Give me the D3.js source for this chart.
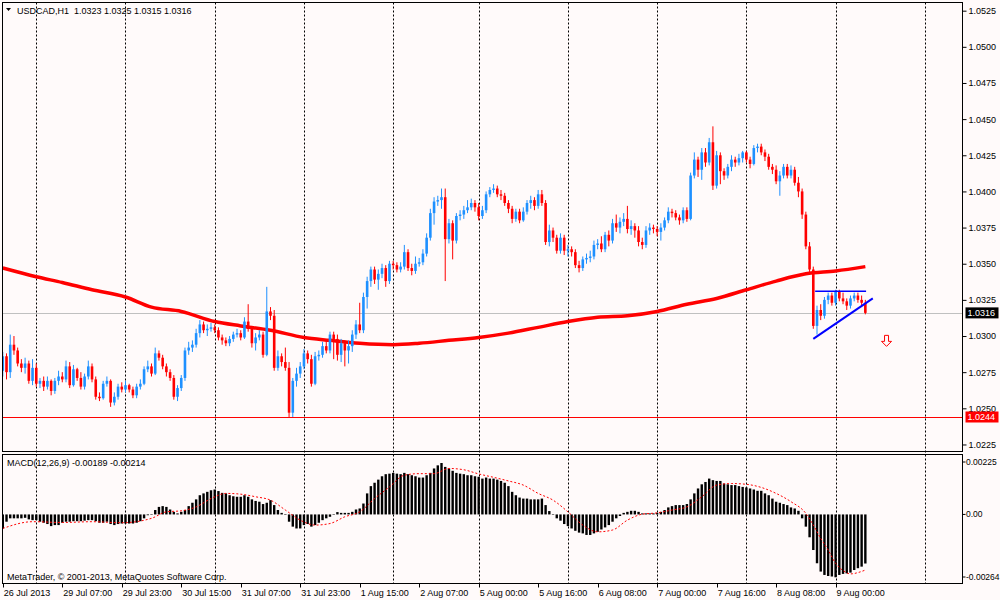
<!DOCTYPE html>
<html>
<head>
<meta charset="utf-8">
<script src="https://cdn.jsdelivr.net/npm/d3@7"></script>
<style>
    body { margin: 0; background: #fffafa; }
    text { font-family: Tahoma, "Liberation Sans", Arial, sans-serif; font-size: 9px; fill: #000; }
    .macd-tick { font-size: 8.5px; }
</style>
</head>
<body>
<svg id="chart" width="1000" height="600"></svg>
<script>
// USDCAD H1, bar index 0 = 26 Jul 2013 15:00, last bar = 9 Aug 08:00
const chartTitle = "USDCAD,H1  1.0323 1.0325 1.0315 1.0316";
const macdTitle = "MACD(12,26,9) -0.00189 -0.00214";
const copyright = "MetaTrader, \u00a9 2001-2013, MetaQuotes Software Corp.";

const opens = [
    1.0276,1.0286,1.0275,1.0294,1.0290,1.0281,1.0278,1.0281,1.0269,1.0278,1.0267,1.0269,
    1.0265,1.0269,1.0262,1.0269,1.0272,1.0270,1.0279,1.0266,1.0277,1.0271,1.0265,1.0272,
    1.0279,1.0270,1.0258,1.0257,1.0267,1.0269,1.0254,1.0258,1.0265,1.0263,1.0266,1.0263,
    1.0259,1.0265,1.0267,1.0277,1.0279,1.0274,1.0288,1.0285,1.0279,1.0275,1.0271,1.0258,
    1.0264,1.0271,1.0290,1.0292,1.0294,1.0302,1.0308,1.0304,1.0305,1.0306,1.0304,1.0299,
    1.0297,1.0295,1.0298,1.0301,1.0302,1.0299,1.0310,1.0305,1.0295,1.0299,1.0301,1.0287,
    1.0317,1.0314,1.0278,1.0286,1.0282,1.0278,1.0247,1.0269,1.0274,1.0279,1.0288,1.0284,
    1.0267,1.0286,1.0287,1.0293,1.0290,1.0301,1.0298,1.0287,1.0295,1.0290,1.0293,1.0301,
    1.0308,1.0304,1.0327,1.0338,1.0346,1.0339,1.0343,1.0347,1.0338,1.0350,1.0349,1.0346,
    1.0348,1.0358,1.0347,1.0345,1.0350,1.0351,1.0357,1.0368,1.0385,1.0393,1.0394,1.0396,
    1.0367,1.0378,1.0366,1.0383,1.0384,1.0387,1.0389,1.0392,1.0389,1.0383,1.0387,1.0398,
    1.0401,1.0402,1.0398,1.0397,1.0392,1.0388,1.0381,1.0386,1.0380,1.0386,1.0392,1.0394,
    1.0390,1.0398,1.0392,1.0365,1.0373,1.0368,1.0359,1.0368,1.0359,1.0360,1.0358,1.0349,
    1.0347,1.0353,1.0354,1.0355,1.0363,1.0364,1.0360,1.0370,1.0366,1.0378,1.0375,1.0379,
    1.0381,1.0374,1.0376,1.0373,1.0365,1.0363,1.0373,1.0375,1.0374,1.0372,1.0375,1.0380,
    1.0386,1.0385,1.0382,1.0380,1.0387,1.0381,1.0411,1.0422,1.0415,1.0427,1.0420,1.0434,
    1.0404,1.0425,1.0414,1.0411,1.0417,1.0422,1.0420,1.0423,1.0427,1.0422,1.0419,1.0430,
    1.0431,1.0427,1.0424,1.0417,1.0415,1.0407,1.0411,1.0417,1.0411,1.0415,1.0406,1.0400,
    1.0384,1.0362,1.0346,1.0307,1.0318,1.0314,1.0325,1.0328,1.0323,1.0331,1.0326,1.0324,
    1.0321,1.0326,1.0328,1.0325,1.0323
];
const highs = [
    1.0289,1.0288,1.0301,1.0300,1.0292,1.0284,1.0285,1.0283,1.0284,1.0281,1.0271,1.0272,
    1.0272,1.0270,1.0271,1.0276,1.0275,1.0283,1.0282,1.0280,1.0278,1.0275,1.0274,1.0283,
    1.0281,1.0272,1.0261,1.0269,1.0272,1.0270,1.0261,1.0267,1.0268,1.0269,1.0267,1.0265,
    1.0267,1.0270,1.0279,1.0283,1.0281,1.0292,1.0290,1.0287,1.0281,1.0277,1.0273,1.0266,
    1.0273,1.0292,1.0296,1.0297,1.0305,1.0311,1.0310,1.0308,1.0309,1.0308,1.0306,1.0301,
    1.0299,1.0300,1.0303,1.0305,1.0304,1.0313,1.0322,1.0307,1.0302,1.0304,1.0303,1.0334,
    1.0320,1.0318,1.0290,1.0288,1.0292,1.0282,1.0271,1.0278,1.0282,1.0291,1.0290,1.0287,
    1.0289,1.0290,1.0296,1.0297,1.0303,1.0303,1.0301,1.0298,1.0297,1.0297,1.0304,1.0311,
    1.0323,1.0330,1.0341,1.0348,1.0348,1.0346,1.0350,1.0349,1.0352,1.0352,1.0351,1.0351,
    1.0363,1.0360,1.0350,1.0355,1.0354,1.0360,1.0371,1.0388,1.0396,1.0397,1.0402,1.0402,
    1.0381,1.0380,1.0385,1.0387,1.0390,1.0394,1.0395,1.0394,1.0392,1.0390,1.0400,1.0403,
    1.0405,1.0404,1.0401,1.0399,1.0394,1.0390,1.0388,1.0388,1.0389,1.0394,1.0397,1.0396,
    1.0401,1.0401,1.0394,1.0377,1.0375,1.0370,1.0371,1.0370,1.0363,1.0362,1.0360,1.0352,
    1.0355,1.0357,1.0359,1.0366,1.0367,1.0369,1.0372,1.0373,1.0381,1.0384,1.0382,1.0385,
    1.0390,1.0380,1.0378,1.0376,1.0368,1.0376,1.0378,1.0377,1.0376,1.0378,1.0382,1.0389,
    1.0388,1.0387,1.0384,1.0389,1.0389,1.0413,1.0427,1.0424,1.0430,1.0430,1.0437,1.0445,
    1.0428,1.0427,1.0416,1.0419,1.0425,1.0424,1.0426,1.0428,1.0428,1.0424,1.0432,1.0433,
    1.0433,1.0429,1.0426,1.0419,1.0418,1.0414,1.0419,1.0419,1.0418,1.0417,1.0410,1.0402,
    1.0386,1.0365,1.0348,1.0321,1.0322,1.0327,1.0330,1.0330,1.0332,1.0332,1.0330,1.0326,
    1.0328,1.0330,1.0330,1.0328,1.0325
];
const lows = [
    1.0272,1.0270,1.0271,1.0287,1.0279,1.0275,1.0274,1.0267,1.0266,1.0265,1.0264,1.0262,
    1.0263,1.0259,1.0260,1.0266,1.0268,1.0268,1.0264,1.0265,1.0269,1.0263,1.0263,1.0270,
    1.0268,1.0256,1.0255,1.0256,1.0265,1.0251,1.0252,1.0256,1.0261,1.0261,1.0261,1.0257,
    1.0257,1.0263,1.0266,1.0275,1.0272,1.0273,1.0283,1.0277,1.0272,1.0269,1.0256,1.0255,
    1.0262,1.0269,1.0287,1.0289,1.0292,1.0299,1.0302,1.0300,1.0303,1.0302,1.0297,1.0294,
    1.0293,1.0293,1.0296,1.0299,1.0297,1.0298,1.0303,1.0292,1.0290,1.0297,1.0285,1.0286,
    1.0311,1.0276,1.0276,1.0279,1.0276,1.0244,1.0244,1.0265,1.0271,1.0277,1.0281,1.0265,
    1.0266,1.0283,1.0285,1.0288,1.0288,1.0284,1.0283,1.0282,1.0279,1.0281,1.0289,1.0298,
    1.0302,1.0302,1.0319,1.0334,1.0336,1.0332,1.0340,1.0334,1.0336,1.0346,1.0344,1.0344,
    1.0346,1.0345,1.0342,1.0343,1.0348,1.0349,1.0355,1.0366,1.0377,1.0390,1.0388,1.0338,
    1.0364,1.0353,1.0364,1.0380,1.0381,1.0385,1.0387,1.0386,1.0380,1.0381,1.0385,1.0396,
    1.0399,1.0396,1.0394,1.0390,1.0385,1.0378,1.0379,1.0378,1.0379,1.0384,1.0388,1.0387,
    1.0388,1.0390,1.0363,1.0362,1.0365,1.0357,1.0357,1.0356,1.0355,1.0355,1.0347,1.0344,
    1.0345,1.0350,1.0351,1.0353,1.0360,1.0358,1.0358,1.0362,1.0364,1.0372,1.0371,1.0376,
    1.0371,1.0370,1.0368,1.0362,1.0360,1.0361,1.0370,1.0371,1.0369,1.0366,1.0373,1.0378,
    1.0382,1.0380,1.0377,1.0378,1.0379,1.0380,1.0409,1.0410,1.0408,1.0417,1.0418,1.0401,
    1.0402,1.0405,1.0408,1.0409,1.0414,1.0417,1.0418,1.0420,1.0420,1.0416,1.0418,1.0427,
    1.0425,1.0421,1.0415,1.0412,1.0405,1.0397,1.0409,1.0409,1.0409,1.0404,1.0396,1.0381,
    1.0360,1.0343,1.0305,1.0301,1.0311,1.0312,1.0322,1.0321,1.0321,1.0324,1.0322,1.0318,
    1.0319,1.0324,1.0323,1.0320,1.0315
];
const closes = [
    1.0286,1.0275,1.0294,1.0290,1.0281,1.0278,1.0281,1.0269,1.0278,1.0267,1.0269,1.0265,
    1.0269,1.0262,1.0269,1.0272,1.0270,1.0279,1.0266,1.0277,1.0271,1.0265,1.0272,1.0279,
    1.0270,1.0258,1.0257,1.0267,1.0269,1.0254,1.0258,1.0265,1.0263,1.0266,1.0263,1.0259,
    1.0265,1.0267,1.0277,1.0279,1.0274,1.0288,1.0285,1.0279,1.0275,1.0271,1.0258,1.0264,
    1.0271,1.0290,1.0292,1.0294,1.0302,1.0308,1.0304,1.0305,1.0306,1.0304,1.0299,1.0297,
    1.0295,1.0298,1.0301,1.0302,1.0299,1.0310,1.0305,1.0295,1.0299,1.0301,1.0287,1.0317,
    1.0314,1.0278,1.0286,1.0282,1.0278,1.0247,1.0269,1.0274,1.0279,1.0288,1.0284,1.0267,
    1.0286,1.0287,1.0293,1.0290,1.0301,1.0298,1.0287,1.0295,1.0290,1.0293,1.0301,1.0308,
    1.0304,1.0327,1.0338,1.0346,1.0339,1.0343,1.0347,1.0338,1.0350,1.0349,1.0346,1.0348,
    1.0358,1.0347,1.0345,1.0350,1.0351,1.0357,1.0368,1.0385,1.0393,1.0394,1.0396,1.0367,
    1.0378,1.0366,1.0383,1.0384,1.0387,1.0389,1.0392,1.0389,1.0383,1.0387,1.0398,1.0401,
    1.0402,1.0398,1.0397,1.0392,1.0388,1.0381,1.0386,1.0380,1.0386,1.0392,1.0394,1.0390,
    1.0398,1.0392,1.0365,1.0373,1.0368,1.0359,1.0368,1.0359,1.0360,1.0358,1.0349,1.0347,
    1.0353,1.0354,1.0355,1.0363,1.0364,1.0360,1.0370,1.0366,1.0378,1.0375,1.0379,1.0381,
    1.0374,1.0376,1.0373,1.0365,1.0363,1.0373,1.0375,1.0374,1.0372,1.0375,1.0380,1.0386,
    1.0385,1.0382,1.0380,1.0387,1.0381,1.0411,1.0422,1.0415,1.0427,1.0420,1.0434,1.0404,
    1.0425,1.0414,1.0411,1.0417,1.0422,1.0420,1.0423,1.0427,1.0422,1.0419,1.0430,1.0431,
    1.0427,1.0424,1.0417,1.0415,1.0407,1.0411,1.0417,1.0411,1.0415,1.0406,1.0400,1.0384,
    1.0362,1.0346,1.0307,1.0318,1.0314,1.0325,1.0328,1.0323,1.0331,1.0326,1.0324,1.0321,
    1.0326,1.0328,1.0325,1.0323,1.0316
];

// moving average (red), read at these bars
const maIdx = [0, 9, 16, 24, 33, 40, 48, 57, 64, 72, 81, 88, 96, 105, 112, 120, 128, 136, 144, 152,
    160, 168, 176, 184, 192, 200, 208, 216, 224, 232];
const maVal = [1.0347, 1.0341, 1.0337, 1.0332, 1.0327, 1.0320, 1.0317, 1.0310, 1.0307, 1.0304, 1.0299,
    1.0297, 1.0295, 1.0294, 1.0295, 1.0297, 1.0299, 1.0302, 1.0306, 1.0310, 1.0313, 1.0314, 1.0317,
    1.0322, 1.0326, 1.0332, 1.0338, 1.0343, 1.0345, 1.0348];

// MACD main (histogram), one per bar
const macdHist = [
    -0.00054,-0.00028,-0.00015,-0.00015,-0.00015,-0.00015,-0.00013,-0.00019,-0.00022,-0.00022,-0.00028,-0.00032,
    -0.00037,-0.00045,-0.00041,-0.00041,-0.00032,-0.00028,-0.00028,-0.00026,-0.00026,-0.00026,-0.00024,-0.00022,
    -0.00022,-0.00026,-0.00032,-0.00032,-0.00028,-0.00037,-0.00041,-0.00037,-0.00035,-0.00035,-0.00035,-0.00035,
    -0.00032,-0.00026,-0.00015,-0.00003,0.00001,0.00017,0.00029,0.00032,0.00029,0.00019,0.00010,0.00004,
    0.00010,0.00017,0.00032,0.00045,0.00058,0.00074,0.00081,0.00087,0.00093,0.00096,0.00090,0.00083,
    0.00081,0.00074,0.00070,0.00068,0.00068,0.00074,0.00068,0.00058,0.00052,0.00049,0.00040,0.00045,
    0.00055,0.00036,0.00017,0.00006,-0.00002,-0.00028,-0.00047,-0.00054,-0.00054,-0.00041,-0.00037,-0.00047,
    -0.00041,-0.00032,-0.00022,-0.00015,-0.00009,-0.00001,0.00009,0.00006,0.00006,0.00006,0.00010,0.00019,
    0.00023,0.00042,0.00081,0.00109,0.00122,0.00134,0.00147,0.00155,0.00157,0.00160,0.00157,0.00155,
    0.00160,0.00155,0.00151,0.00147,0.00142,0.00142,0.00151,0.00160,0.00177,0.00189,0.00198,0.00183,
    0.00177,0.00168,0.00160,0.00157,0.00155,0.00151,0.00151,0.00147,0.00145,0.00138,0.00142,0.00138,
    0.00138,0.00134,0.00129,0.00122,0.00109,0.00087,0.00074,0.00065,0.00061,0.00061,0.00058,0.00058,
    0.00058,0.00061,0.00036,0.00013,0.00001,-0.00015,-0.00024,-0.00037,-0.00045,-0.00054,-0.00063,-0.00070,
    -0.00073,-0.00079,-0.00079,-0.00073,-0.00067,-0.00058,-0.00050,-0.00041,-0.00028,-0.00015,-0.00006,0.00006,
    0.00010,0.00014,0.00014,0.00010,0.00004,0.00004,0.00004,0.00004,0.00006,0.00010,0.00017,0.00027,
    0.00032,0.00036,0.00036,0.00036,0.00040,0.00058,0.00081,0.00100,0.00116,0.00125,0.00138,0.00132,
    0.00129,0.00129,0.00119,0.00116,0.00113,0.00113,0.00109,0.00106,0.00104,0.00100,0.00096,0.00091,
    0.00091,0.00081,0.00074,0.00061,0.00049,0.00045,0.00040,0.00036,0.00027,0.00023,0.00014,-0.00015,
    -0.00047,-0.00088,-0.00137,-0.00188,-0.00220,-0.00233,-0.00237,-0.00239,-0.00242,-0.00233,-0.00229,-0.00227,
    -0.00224,-0.00214,-0.00207,-0.00201,-0.00189
];

// MACD signal (red dotted), read at these bars
const sigIdx = [0, 8, 16, 24, 32, 40, 44, 48, 52, 56, 60, 64, 68, 72, 76, 80, 84, 88, 92, 96, 100, 104, 108,
    112, 116, 120, 124, 128, 132, 136, 140, 144, 148, 152, 156, 160, 164, 168, 172, 176, 180, 184, 188, 192,
    196, 200, 204, 208, 212, 216, 218, 220, 222, 224, 226, 228, 230, 232];
const sigVal = [-0.00054, -0.00028, -0.00031, -0.00028, -0.00032, -0.00015, 0.00010, 0.00014, 0.00029,
    0.00061, 0.00081, 0.00078, 0.00068, 0.00055, 0.00017, -0.00022, -0.00041, -0.00035, -0.00009, 0.00010,
    0.00061, 0.00106, 0.00151, 0.00157, 0.00157, 0.00177, 0.00172, 0.00156, 0.00143, 0.00129, 0.00113,
    0.00081, 0.00055, 0.00010, -0.00041, -0.00067, -0.00060, -0.00022, 0.00001, 0.00006, 0.00017, 0.00029,
    0.00068, 0.00113, 0.00119, 0.00116, 0.00104, 0.00081, 0.00049, 0.00004, -0.00041, -0.00092, -0.00137,
    -0.00188, -0.00216, -0.00229, -0.00224, -0.00214];

// drawn objects: triangle lines and the sell arrow
const flatLineIdx = [218.5, 232.2];
const flatLinePrice = [1.0331, 1.0331];
const riseLineIdx = [218, 234];
const riseLinePrice = [1.0298, 1.0326];
const arrowIdx = 237.7;
const arrowPrice = 1.0297;

const lastPrice = 1.0316;
const alertPrice = 1.0244;

const priceTicks = [1.0225, 1.0250, 1.0275, 1.0300, 1.0325, 1.0350, 1.0375, 1.0400, 1.0425, 1.0450,
    1.0475, 1.0500, 1.0525];
const macdTicks = [0.00225, 0, -0.00264];
const macdTickText = ["0.00225", "0.00", "-0.00264"];

const timeIdx = [0, 16, 32, 48, 64, 80, 96, 112, 128, 144, 160, 176, 192, 208, 224];
const timeLabels = ["26 Jul 2013", "29 Jul 07:00", "29 Jul 23:00", "30 Jul 15:00", "31 Jul 07:00",
    "31 Jul 23:00", "1 Aug 15:00", "2 Aug 07:00", "5 Aug 00:00", "5 Aug 16:00", "6 Aug 08:00",
    "7 Aug 00:00", "7 Aug 16:00", "8 Aug 08:00", "9 Aug 00:00"];
const dayGridIdx = [9, 33, 57, 81, 105, 128, 152, 176, 200, 224, 248];

const bullColor = "#1e90ff";
const bearColor = "#ff0000";

function drawChart() {
    const svg = d3.select("#chart");
    const left = 2.5, right = 962.5;
    const mainTop = 2.5, mainBottom = 451.5;
    const macdTop = 454.5, macdBottom = 583.5;

    const x = d3.scaleLinear().domain([0, 224]).range([2.8, 835.6]);
    const y = d3.scaleLinear().domain([1.0220, 1.0531]).range([451.7, 2]);
    const ym = d3.scaleLinear().domain([-0.00264, 0.00225]).range([583, 456]);

    svg.append("rect").attr("width", 1000).attr("height", 600).attr("fill", "#fffafa");

    const defs = svg.append("defs");
    defs.append("clipPath").attr("id", "mainClip")
        .append("rect").attr("x", left).attr("y", mainTop)
        .attr("width", right - left).attr("height", mainBottom - mainTop);
    defs.append("clipPath").attr("id", "macdClip")
        .append("rect").attr("x", left).attr("y", macdTop)
        .attr("width", right - left).attr("height", macdBottom - macdTop);

    // day separators, dotted, through both windows
    svg.append("g").selectAll("line")
        .data(dayGridIdx)
        .join("line")
        .attr("x1", d => Math.round(x(d)) + 0.5)
        .attr("x2", d => Math.round(x(d)) + 0.5)
        .attr("y1", mainTop)
        .attr("y2", macdBottom)
        .attr("stroke", "#000")
        .attr("stroke-dasharray", "2,2");

    const main = svg.append("g").attr("clip-path", "url(#mainClip)");

    // price line and alert line
    main.append("line")
        .attr("x1", left).attr("x2", right)
        .attr("y1", Math.round(y(lastPrice)) + 0.5).attr("y2", Math.round(y(lastPrice)) + 0.5)
        .attr("stroke", "#c0c0c0");
    main.append("line")
        .attr("x1", left).attr("x2", right)
        .attr("y1", Math.round(y(alertPrice)) + 0.5).attr("y2", Math.round(y(alertPrice)) + 0.5)
        .attr("stroke", "#ff0000");

    // moving average
    const maData = maIdx.map((d, k) => ({ i: d, v: maVal[k] }));
    main.append("path")
        .attr("d", d3.line().x(d => x(d.i)).y(d => y(d.v)).curve(d3.curveMonotoneX)(maData))
        .attr("fill", "none")
        .attr("stroke", "#ff0000")
        .attr("stroke-width", 3.5)
        .attr("stroke-linejoin", "round");

    // candles
    const candles = closes.map((c, i) => ({ i, o: opens[i], h: highs[i], l: lows[i], c }));
    const colorOf = d => d.c >= d.o ? bullColor : bearColor;

    main.append("g").selectAll("line")
        .data(candles)
        .join("line")
        .attr("x1", d => x(d.i)).attr("x2", d => x(d.i))
        .attr("y1", d => y(d.h)).attr("y2", d => y(d.l))
        .attr("stroke", colorOf)
        .attr("stroke-width", 1);

    main.append("g").selectAll("rect")
        .data(candles)
        .join("rect")
        .attr("x", d => x(d.i) - 1.3)
        .attr("width", 2.6)
        .attr("y", d => y(Math.max(d.o, d.c)))
        .attr("height", d => Math.max(1, Math.abs(y(d.o) - y(d.c))))
        .attr("fill", colorOf);

    // triangle lines
    const lineXY = d3.line().x(d => x(d[0])).y(d => y(d[1]));
    main.append("path")
        .attr("d", lineXY(flatLineIdx.map((d, k) => [d, flatLinePrice[k]])))
        .attr("stroke", "#0000ff").attr("stroke-width", 1.5).attr("fill", "none");
    main.append("path")
        .attr("d", lineXY(riseLineIdx.map((d, k) => [d, riseLinePrice[k]])))
        .attr("stroke", "#0000ff").attr("stroke-width", 2).attr("fill", "none");

    // sell arrow
    main.append("path")
        .attr("transform", `translate(${x(arrowIdx)},${y(arrowPrice) - 5})`)
        .attr("d", "M-2,0 L2,0 L2,6 L5,6 L0,11 L-5,6 L-2,6 Z")
        .attr("fill", "#fffafa")
        .attr("stroke", "#ff0000")
        .attr("stroke-width", 1);

    // MACD window
    const macd = svg.append("g").attr("clip-path", "url(#macdClip)");
    macd.append("g").selectAll("rect")
        .data(macdHist)
        .join("rect")
        .attr("x", (d, i) => x(i) - 1.2)
        .attr("width", 2.4)
        .attr("y", d => Math.min(ym(d), ym(0)))
        .attr("height", d => Math.max(0.5, Math.abs(ym(d) - ym(0))))
        .attr("fill", "#000");

    const sigData = sigIdx.map((d, k) => ({ i: d, v: sigVal[k] }));
    macd.append("path")
        .attr("d", d3.line().x(d => x(d.i)).y(d => ym(d.v)).curve(d3.curveMonotoneX)(sigData))
        .attr("fill", "none")
        .attr("stroke", "#ff0000")
        .attr("stroke-width", 1)
        .attr("stroke-dasharray", "2,2");

    // window borders
    svg.append("rect")
        .attr("x", left).attr("y", mainTop)
        .attr("width", right - left).attr("height", mainBottom - mainTop)
        .attr("fill", "none").attr("stroke", "#000");
    svg.append("rect")
        .attr("x", left).attr("y", macdTop)
        .attr("width", right - left).attr("height", macdBottom - macdTop)
        .attr("fill", "none").attr("stroke", "#000");

    // price scale
    const yAxis = d3.axisRight(y)
        .tickValues(priceTicks)
        .tickSize(4)
        .tickPadding(2)
        .tickFormat(d3.format(".4f"));
    const yAxisG = svg.append("g")
        .attr("transform", `translate(${right},0)`)
        .call(yAxis);
    yAxisG.select(".domain").remove();
    yAxisG.selectAll("text").attr("font-size", null).attr("font-family", null);
    yAxisG.selectAll(".tick line").attr("stroke", "#000");

    // current price / alert tags
    const tags = [
        { p: lastPrice, bg: "#000" },
        { p: alertPrice, bg: "#ff0000" }
    ];
    tags.forEach(t => {
        svg.append("rect")
            .attr("x", right + 3).attr("y", y(t.p) - 5.5)
            .attr("width", 33).attr("height", 11)
            .attr("fill", t.bg);
        svg.append("text")
            .attr("x", right + 5).attr("y", y(t.p))
            .attr("dy", "0.34em")
            .style("fill", "#fff")
            .text(d3.format(".4f")(t.p));
    });

    // MACD scale (edge labels sit inside the window)
    const macdLabelY = (v, k) => ym(v) + (k === 0 ? 6 : k === macdTicks.length - 1 ? -6 : 0);
    macdTicks.forEach((v, k) => {
        const ty = macdLabelY(v, k);
        svg.append("line")
            .attr("x1", right).attr("x2", right + 3)
            .attr("y1", ty).attr("y2", ty)
            .attr("stroke", "#000");
        svg.append("text")
            .attr("class", "macd-tick")
            .attr("x", right + 3.5)
            .attr("y", ty)
            .attr("dy", "0.34em")
            .text(macdTickText[k]);
    });

    // time scale
    const tg = svg.append("g");
    tg.selectAll("line")
        .data(timeIdx)
        .join("line")
        .attr("x1", d => Math.round(x(d)) + 0.5)
        .attr("x2", d => Math.round(x(d)) + 0.5)
        .attr("y1", macdBottom)
        .attr("y2", macdBottom + 4)
        .attr("stroke", "#000");
    tg.selectAll("text")
        .data(timeIdx)
        .join("text")
        .attr("x", d => x(d) + 1)
        .attr("y", 596)
        .text((d, k) => timeLabels[k]);

    // window captions
    svg.append("path")
        .attr("d", "M6,8 L11,8 L8.5,11 Z")
        .attr("fill", "#000");
    svg.append("text")
        .attr("x", 17).attr("y", 13.5)
        .style("white-space", "pre")
        .text(chartTitle);
    svg.append("text")
        .attr("x", 7).attr("y", 466)
        .text(macdTitle);
    svg.append("text")
        .attr("x", 7).attr("y", 580)
        .text(copyright);
}

drawChart();
</script>
</body>
</html>
